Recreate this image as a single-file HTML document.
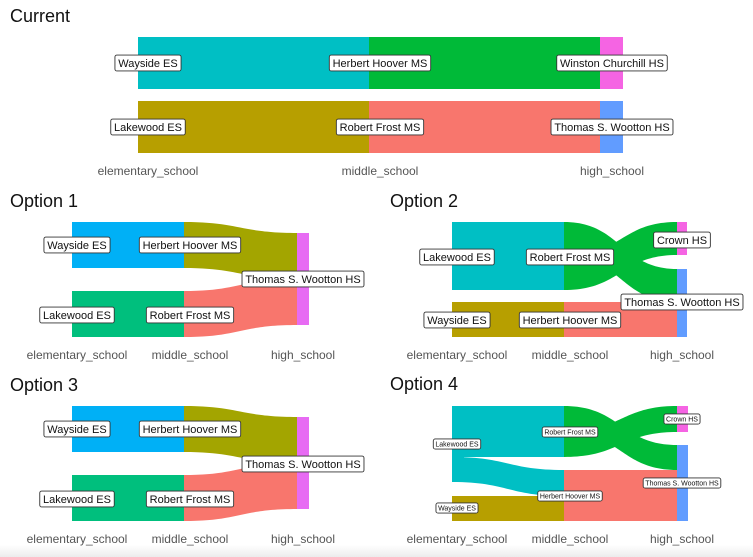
<!DOCTYPE html>
<html><head><meta charset="utf-8"><style>
html,body{margin:0;padding:0;background:#fff;width:753px;height:557px;overflow:hidden}
svg{display:block}
text{font-family:"Liberation Sans",sans-serif}
.t{font-size:18px;fill:#111}
.ax{font-size:12px;fill:#555;text-anchor:middle}
</style></head><body>
<svg id="s" width="753" height="557" viewBox="0 0 753 557" xmlns="http://www.w3.org/2000/svg">
<defs><linearGradient id="g" x1="0" y1="0" x2="0" y2="1"><stop offset="0" stop-color="#fff"/><stop offset="1" stop-color="#ececec"/></linearGradient></defs>
<rect x="0" y="545" width="753" height="12" fill="url(#g)"/>
<!-- Current -->
<text class="t" x="10" y="22">Current</text>
<rect x="138" y="37" width="231" height="52" fill="#00BFC4"/>
<rect x="369" y="37" width="231" height="52" fill="#00BA38"/>
<rect x="600" y="37" width="23" height="52" fill="#F564E3"/>
<rect x="138" y="101" width="231" height="52" fill="#B79F00"/>
<rect x="369" y="101" width="231" height="52" fill="#F8766D"/>
<rect x="600" y="101" width="23" height="52" fill="#619CFF"/>
<text class="ax" x="148" y="175">elementary_school</text>
<text class="ax" x="380" y="175">middle_school</text>
<text class="ax" x="612" y="175">high_school</text>

<!-- Option 1 -->
<g id="o1">
<text class="t" x="10" y="207">Option 1</text>
<rect x="72" y="222" width="112" height="46" fill="#00B0F6"/>
<rect x="72" y="291" width="112" height="46" fill="#00BF7D"/>
<path d="M184,222 C240,222 240,233 297,233 L297,279 C240,279 240,268 184,268 Z" fill="#A3A500"/>
<path d="M184,291 C240,291 240,279 297,279 L297,325 C240,325 240,337 184,337 Z" fill="#F8766D"/>
<rect x="297" y="233" width="12" height="92" fill="#E76BF3"/>
<text class="ax" x="77" y="359">elementary_school</text>
<text class="ax" x="190" y="359">middle_school</text>
<text class="ax" x="303" y="359">high_school</text>
</g>
<!-- Option 3 -->
<g transform="translate(0,184)">
<text class="t" x="10" y="207">Option 3</text>
<rect x="72" y="222" width="112" height="46" fill="#00B0F6"/>
<rect x="72" y="291" width="112" height="46" fill="#00BF7D"/>
<path d="M184,222 C240,222 240,233 297,233 L297,279 C240,279 240,268 184,268 Z" fill="#A3A500"/>
<path d="M184,291 C240,291 240,279 297,279 L297,325 C240,325 240,337 184,337 Z" fill="#F8766D"/>
<rect x="297" y="233" width="12" height="92" fill="#E76BF3"/>
<text class="ax" x="77" y="359">elementary_school</text>
<text class="ax" x="190" y="359">middle_school</text>
<text class="ax" x="303" y="359">high_school</text>
</g>

<!-- Option 2 -->
<text class="t" x="390" y="207">Option 2</text>
<rect x="452" y="222" width="112" height="68" fill="#00BFC4"/>
<rect x="452" y="302" width="112" height="35" fill="#B79F00"/>
<path d="M564,222 C621,222 621,269 677,269 L677,302 C621,302 621,256 564,256 Z" fill="#00BA38"/>
<path d="M564,256 C621,256 621,222 677,222 L677,255 C621,255 621,290 564,290 Z" fill="#00BA38"/>
<rect x="564" y="302" width="113" height="35" fill="#F8766D"/>
<rect x="677" y="222" width="10" height="33" fill="#F564E3"/>
<rect x="677" y="269" width="10" height="68" fill="#619CFF"/>
<text class="ax" x="457" y="359">elementary_school</text>
<text class="ax" x="570" y="359">middle_school</text>
<text class="ax" x="682" y="359">high_school</text>

<!-- Option 4 -->
<text class="t" x="390" y="390">Option 4</text>
<rect x="452" y="406" width="112" height="51" fill="#00BFC4"/>
<path d="M452,457 C508,457 508,470 564,470 L564,496 C508,496 508,482 452,482 Z" fill="#00BFC4"/>
<rect x="452" y="455" width="12" height="27" fill="#00BFC4"/>
<rect x="452" y="496" width="112" height="25" fill="#B79F00"/>
<path d="M564,406 C621,406 621,445 677,445 L677,470 C621,470 621,432 564,432 Z" fill="#00BA38"/>
<path d="M564,432 C621,432 621,406 677,406 L677,432 C621,432 621,457 564,457 Z" fill="#00BA38"/>
<rect x="564" y="470" width="113" height="51" fill="#F8766D"/>
<rect x="677" y="406" width="11" height="26" fill="#F564E3"/>
<rect x="677" y="445" width="11" height="76" fill="#619CFF"/>
<text class="ax" x="457" y="543">elementary_school</text>
<text class="ax" x="570" y="543">middle_school</text>
<text class="ax" x="682" y="543">high_school</text>
<g id="labels"></g>
</svg>
<script>
var L=[
[148,63,"Wayside ES",11],[380,63,"Herbert Hoover MS",11],[612,63,"Winston Churchill HS",11],
[148,127,"Lakewood ES",11],[380,127,"Robert Frost MS",11],[612,127,"Thomas S. Wootton HS",11],
[77,245,"Wayside ES",11],[190,245,"Herbert Hoover MS",11],[303,279,"Thomas S. Wootton HS",11],[77,315,"Lakewood ES",11],[190,315,"Robert Frost MS",11],
[77,429,"Wayside ES",11],[190,429,"Herbert Hoover MS",11],[303,464,"Thomas S. Wootton HS",11],[77,499,"Lakewood ES",11],[190,499,"Robert Frost MS",11],
[457,257,"Lakewood ES",11],[570,257,"Robert Frost MS",11],[682,240,"Crown HS",11],[682,302,"Thomas S. Wootton HS",11],[457,320,"Wayside ES",11],[570,320,"Herbert Hoover MS",11],
[457,444,"Lakewood ES",7],[570,432,"Robert Frost MS",7],[682,419,"Crown HS",7],[682,483,"Thomas S. Wootton HS",7],[570,496,"Herbert Hoover MS",7],[457,508,"Wayside ES",7]
];
var ns="http://www.w3.org/2000/svg",g=document.getElementById("labels");
L.forEach(function(l){
 var t=document.createElementNS(ns,"text");
 t.setAttribute("x",l[0]);t.setAttribute("y",l[1]+l[3]*0.36);
 t.setAttribute("text-anchor","middle");t.setAttribute("font-size",l[3]);t.setAttribute("fill","#111");
 t.textContent=l[2];
 g.appendChild(t);
 var w=t.getComputedTextLength(),p=l[3]*0.3,h=l[3]*1.45;
 var r=document.createElementNS(ns,"rect");
 r.setAttribute("x",l[0]-w/2-p);r.setAttribute("y",l[1]-h/2);
 r.setAttribute("width",w+2*p);r.setAttribute("height",h);
 r.setAttribute("rx",2);r.setAttribute("fill","#fff");r.setAttribute("stroke","#333");r.setAttribute("stroke-width",0.9);
 g.insertBefore(r,t);
});
</script>
</body></html>
